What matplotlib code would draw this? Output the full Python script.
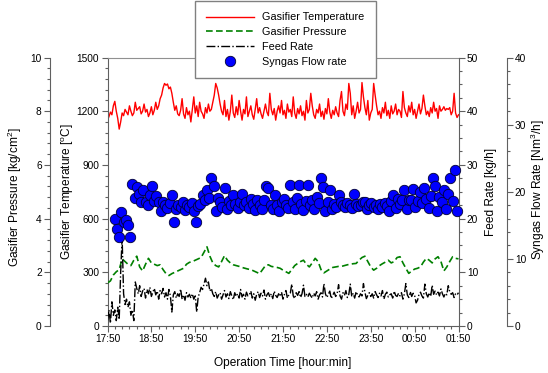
import numpy as np
import matplotlib
matplotlib.use("Agg")
import matplotlib.pyplot as plt
from matplotlib.ticker import MultipleLocator

plt.rcParams['font.family'] = ['Liberation Sans', 'DejaVu Sans']
plt.rcParams['mathtext.fontset'] = 'custom'
plt.rcParams['mathtext.rm'] = 'Liberation Sans'
plt.rcParams['mathtext.it'] = 'Liberation Sans'
plt.rcParams['mathtext.bf'] = 'Liberation Sans:bold'

# ---------------- data (time in minutes after 17:50) ----------------
x_tick_labels = ["17:50", "18:50", "19:50", "20:50", "21:50", "22:50", "23:50", "00:50", "01:50"]

# Gasifier temperature [C], sampled every 2 min from 17:50 to 01:50
temperature = [
    1150, 1170, 1195, 1180, 1230, 1255, 1200, 1160, 1100, 1140, 1190, 1175, 1210, 1195, 1180, 1230, 1200, 1175, 1190, 1250,
    1205, 1215, 1225, 1185, 1200, 1240, 1195, 1210, 1170, 1190, 1225, 1180, 1205, 1250, 1210, 1230, 1270, 1290,
    1330, 1355, 1345, 1352, 1325, 1335, 1300, 1250, 1205, 1230, 1185, 1175, 1205, 1270, 1185, 1160, 1220, 1180, 1200, 1140,
    1210, 1280, 1190, 1230, 1170, 1250, 1200, 1185, 1160, 1220, 1190, 1240, 1200, 1210, 1250, 1290, 1355, 1330, 1290, 1240,
    1200, 1180, 1260, 1170, 1210, 1150, 1200, 1290, 1190, 1165, 1225, 1180, 1260, 1200, 1150, 1210, 1185, 1280, 1170, 1200,
    1230, 1180, 1155, 1210, 1270, 1190, 1220, 1185, 1160, 1200, 1240, 1195, 1175, 1300, 1210, 1180, 1215, 1150, 1200, 1230, 1190, 1260,
    1180, 1205, 1160, 1240, 1195, 1210, 1170, 1280, 1190, 1160, 1215, 1185, 1230, 1175, 1200, 1150, 1260, 1190, 1210, 1300,
    1230, 1180, 1160, 1210, 1190, 1240, 1170, 1200, 1155, 1215, 1185, 1270, 1195, 1160, 1205, 1180, 1225, 1190, 1170, 1260,
    1310, 1200, 1175, 1240, 1210, 1355, 1300, 1180, 1230, 1160, 1200, 1250, 1190, 1210, 1360, 1280, 1220, 1180, 1260, 1150,
    1190, 1210, 1355, 1290, 1230, 1180, 1200, 1160, 1220, 1190, 1250, 1175, 1205, 1160, 1230, 1185, 1200, 1240, 1180, 1210,
    1200, 1165, 1310, 1220, 1190, 1170, 1230, 1195, 1250, 1180, 1210, 1160, 1200, 1240, 1185, 1215, 1290, 1230, 1180, 1200,
    1170, 1220, 1190, 1250, 1200, 1215, 1160, 1230, 1200, 1210, 1225, 1205, 1215, 1210, 1220, 1180, 1200, 1300, 1190, 1165,
    1180,
]

# Gasifier pressure [kg/cm2], every 4 min
pressure = [
    1.60, 1.68, 1.90, 2.02, 2.10, 2.50, 2.40, 2.30, 2.25, 2.45, 2.60, 2.20, 2.05, 2.30, 2.52, 2.35, 2.30, 2.25, 2.28, 2.10,
    1.95, 1.88, 1.95, 2.00, 2.05, 2.10, 2.15, 2.30, 2.37, 2.40, 2.45, 2.50, 2.55, 2.75, 2.95, 2.60, 2.35, 2.25, 2.20, 2.40,
    2.62, 2.45, 2.35, 2.28, 2.25, 2.22, 2.18, 2.15, 2.12, 2.10, 2.05, 2.00, 1.95, 2.10, 2.25, 2.28, 2.22, 2.20, 2.18, 2.15,
    2.08, 2.02, 1.96, 2.10, 2.25, 2.33, 2.40, 2.45, 2.30, 2.20, 2.35, 2.52, 2.40, 2.10, 1.98, 2.05, 2.12, 2.18, 2.20, 2.22,
    2.22, 2.25, 2.28, 2.30, 2.32, 2.33, 2.45, 2.55, 2.60, 2.40, 2.20, 2.08, 2.15, 2.25, 2.32, 2.38, 2.45, 2.35, 2.40, 2.55,
    2.58, 2.35, 2.15, 1.96, 2.05, 2.12, 2.15, 2.20, 2.38, 2.52, 2.45, 2.35, 2.50, 2.58, 2.40, 2.05, 2.20, 2.40, 2.58, 2.52,
    2.50,
]

# Feed rate [kg/h], every 2 min
feed_rate = [
    1.0, 3.0, 0.5, 4.5, 2.0, 3.0, 1.0, 3.5, 1.2, 10.0, 16.5, 6.0, 4.0, 5.0, 3.5, 4.5, 2.0,
    3.0, 1.0, 8.2, 7.0, 6.0, 7.5, 5.5, 6.5, 7.0, 5.2, 6.8, 6.0, 7.2, 5.5, 6.3, 7.0, 5.8, 6.5, 5.0, 6.6,
    6.0, 7.0, 5.4, 6.2, 5.0, 6.8, 5.6, 2.6, 5.8, 6.4, 5.2, 6.0, 5.5, 6.9, 5.0, 5.8, 4.8, 6.2, 5.4, 5.9,
    5.2, 6.0, 5.0, 5.6, 2.6, 5.4, 6.2, 7.2, 6.8, 7.8, 8.9, 7.5, 8.2, 6.5, 7.0, 6.0, 5.5, 6.4, 5.2, 5.8,
    6.2, 5.0, 5.8, 6.6, 5.4, 6.0, 5.1, 6.4, 5.6, 4.9, 6.2, 5.5, 6.0, 5.2, 6.8, 5.4, 5.9, 5.0, 6.3, 5.6,
    5.8, 6.5, 5.2, 6.0, 4.8, 5.9, 6.4, 5.3, 6.1, 5.6, 6.7, 5.0, 5.8, 6.2, 5.4, 6.0, 5.1, 6.5, 5.7, 5.3,
    6.0, 5.5, 6.3, 5.0, 5.9, 6.6, 5.2, 5.8, 6.1, 7.8, 5.6, 5.1, 6.2, 5.7, 6.4, 5.3, 6.0, 7.6, 5.5, 5.9, 5.4, 6.1, 5.6,
    5.2, 6.1, 5.6, 6.4, 5.0, 5.8, 6.2, 5.4, 7.9, 6.0, 5.3, 5.9, 6.5, 5.1, 5.7, 6.3, 5.5, 6.0, 7.7, 5.6,
    5.0, 6.2, 5.7, 6.6, 5.3, 5.9, 7.8, 5.5, 6.1, 5.2, 6.4, 5.8, 5.4, 6.0, 5.6, 7.9, 6.3, 5.1, 5.7, 6.2,
    5.5, 6.0, 5.2, 6.4, 5.8, 5.3, 6.1, 5.6, 6.6, 5.0, 5.9, 6.3, 5.4, 5.8, 6.0, 5.2, 6.5, 5.7, 5.5, 6.1,
    5.6, 6.2, 5.0, 6.0, 7.9, 5.8, 5.3, 6.4, 5.5, 6.1, 5.7, 4.3, 4.8, 5.9, 6.3, 5.6, 5.2, 7.8, 6.0, 5.4,
    6.2, 5.5, 7.6, 5.9, 6.5, 5.8, 6.3, 5.6, 6.9, 6.0, 5.4, 6.1, 5.8, 7.5, 6.4, 5.9, 6.2, 5.3, 6.0, 5.8,
    6.2,
]

# Syngas flow rate [Nm3/h], every 3 min starting 10 min after 17:50
syngas_start = 10
syngas_step = 3
syngas_flow = [
    15.9, 14.4, 13.3, 17.0, 15.5, 15.8, 15.0, 13.3, 21.1, 19.0, 20.7, 19.7, 18.5, 20.2, 18.5, 18.0, 19.5, 20.8, 18.6, 19.4,
    18.5, 17.2, 18.4, 18.0, 17.6, 18.3, 19.5, 15.5, 17.4, 18.0, 17.7, 18.4, 17.3, 18.1, 17.8, 18.3, 17.1, 15.5, 17.9, 18.2,
    19.5, 18.8, 20.2, 19.0, 22.0, 20.8, 17.2, 19.0, 18.4, 17.8, 20.6, 17.5, 18.6, 18.0, 19.5, 18.2, 17.6, 18.5, 19.7, 18.0,
    18.4, 17.6, 18.9, 18.2, 17.3, 18.7, 18.0, 17.5, 18.8, 20.8, 20.6, 18.1, 17.4, 19.5, 18.0, 17.2, 18.5, 18.9, 18.1, 17.6,
    21.0, 18.4, 17.5, 19.0, 21.0, 18.2, 17.3, 18.6, 21.0, 18.0, 18.8, 17.4, 19.2, 18.3, 22.0, 20.7, 17.1, 18.5, 20.2, 17.4,
    18.2, 17.8, 19.5, 18.4, 18.0, 17.7, 18.3, 18.1, 17.6, 19.7, 18.2, 17.9, 18.0, 18.4, 18.4, 17.5, 18.0, 18.3, 17.7, 18.1, 17.4, 18.2,
    17.8, 18.3, 17.9, 17.1, 18.6, 19.5, 17.6, 18.9, 18.2, 18.8, 20.2, 17.5, 18.7, 18.8, 20.4, 17.8, 18.6, 19.9, 18.3, 20.6,
    18.9, 17.6, 19.4, 22.0, 20.8, 17.1, 19.2, 18.4, 20.2, 17.4, 19.7, 22.0, 18.6, 23.2, 17.1,
]

t_temp = np.linspace(0, 480, len(temperature))
t_pres = np.linspace(0, 480, len(pressure))
t_feed = np.linspace(0, 480, len(feed_rate))
t_syn = syngas_start + syngas_step * np.arange(len(syngas_flow))

# ---------------- figure ----------------
W, H = 548, 373
fig = plt.figure(figsize=(W / 100, H / 100), dpi=100)
L, R, B, T = 107.5, 458.5, 326, 57.5
ax = fig.add_axes([L / W, 1 - B / H, (R - L) / W, (B - T) / H])
axp = ax.twinx()
axf = ax.twinx()
axs = ax.twinx()

spine_c = '#606060'
tick_kw = dict(direction='out', colors=spine_c, labelcolor='black', labelsize=7.3, width=0.8)

# temperature (main axis)
l_t, = ax.plot(t_temp, temperature, color='#FF0000', lw=1.0)
ax.set_xlim(0, 480)
ax.set_ylim(0, 1500)
ax.set_xticks(np.arange(0, 481, 60))
ax.set_xticklabels(x_tick_labels)
ax.xaxis.set_minor_locator(MultipleLocator(10))
ax.set_yticks(np.arange(0, 1501, 300))
ax.yaxis.set_minor_locator(MultipleLocator(60))
ax.tick_params(which='major', length=4, pad=2, **tick_kw)
ax.tick_params(which='minor', length=2.5, direction='out', colors=spine_c, width=0.8)
ax.spines['right'].set_visible(False)
ax.spines['top'].set_color('#909090')
ax.spines['left'].set_color(spine_c)
ax.spines['bottom'].set_color(spine_c)
ax.set_xlabel('Operation Time [hour:min]', fontsize=8.6, labelpad=9)
ax.set_ylabel(r'Gasifier Temperature [$^\mathrm{o}$C]', fontsize=8.6)
ax.yaxis.set_label_coords(-0.091, 0.5)

# pressure (outer left)
l_p, = axp.plot(t_pres, pressure, color='#008000', lw=1.2, dashes=(4, 2))
axp.set_ylim(0, 10)
axp.set_yticks(np.arange(0, 11, 2))
axp.yaxis.set_minor_locator(MultipleLocator(0.4))
axp.yaxis.set_label_position('left')
axp.yaxis.set_ticks_position('left')
axp.spines['left'].set_position(('outward', 41.4))
for s in ['right', 'top', 'bottom']:
    axp.spines[s].set_visible(False)
axp.spines['left'].set_visible(True)
axp.spines['left'].set_color(spine_c)
axp.tick_params(which='major', length=4, pad=2, **tick_kw)
axp.tick_params(which='minor', length=2.5, direction='out', colors=spine_c, width=0.8)
axp.set_ylabel(r'Gasifier Pressure [kg/cm$^2$]', fontsize=8.6)
axp.yaxis.set_label_coords(-0.239, 0.48)

# feed rate (inner right)
l_f, = axf.plot(t_feed, feed_rate, color='black', lw=1.0, linestyle='-.')
axf.set_ylim(0, 50)
axf.set_yticks(np.arange(0, 51, 10))
axf.yaxis.set_minor_locator(MultipleLocator(2.5))
for s in ['left', 'top', 'bottom']:
    axf.spines[s].set_visible(False)
axf.spines['right'].set_color(spine_c)
axf.tick_params(which='major', length=4, pad=2, **tick_kw)
axf.tick_params(which='minor', length=2.5, direction='out', colors=spine_c, width=0.8)
axf.set_ylabel('Feed Rate [kg/h]', fontsize=8.6)
axf.yaxis.set_label_coords(1.0755, 0.5)

# syngas (outer right)
l_s, = axs.plot(t_syn, syngas_flow, 'o', ms=7.5, mfc='#0000FF', mec='#000033',
                mew=0.6, clip_on=False)
axs.set_ylim(0, 40)
axs.set_yticks(np.arange(0, 41, 10))
axs.yaxis.set_minor_locator(MultipleLocator(2))
axs.spines['right'].set_position(('outward', 34.6))
for s in ['left', 'top', 'bottom']:
    axs.spines[s].set_visible(False)
axs.spines['right'].set_color(spine_c)
axs.tick_params(which='major', length=4, pad=2, **tick_kw)
axs.tick_params(which='minor', length=2.5, direction='out', colors=spine_c, width=0.8)
axs.set_ylabel(r'Syngas Flow Rate [Nm$^3$/h]', fontsize=8.6)
axs.yaxis.set_label_coords(1.199, 0.51)

leg = fig.legend([l_t, l_p, l_f, l_s],
                 ['Gasifier Temperature', 'Gasifier Pressure', 'Feed Rate', 'Syngas Flow rate'],
                 loc='upper left', bbox_to_anchor=(195 / W, 1 - 1 / H),
                 frameon=True, fancybox=False, framealpha=1, edgecolor='#808080',
                 fontsize=7.8, handlelength=4.4, handletextpad=0.75, labelspacing=0.45,
                 borderpad=1.05, borderaxespad=0, numpoints=1)
leg.get_frame().set_linewidth(1.0)

fig.savefig('out.png', dpi=100)
